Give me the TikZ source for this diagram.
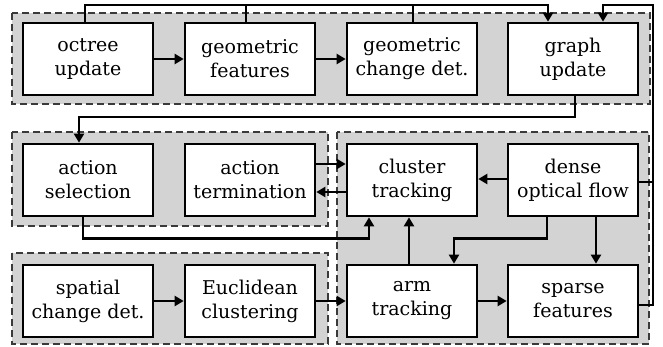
\documentclass[tikz,border=0pt]{standalone}
\usepackage{fontspec}
\setmainfont{DejaVu Serif}
\usetikzlibrary{arrows.meta,calc}
\definecolor{groupfill}{HTML}{D3D3D3}
\definecolor{groupline}{HTML}{3A3A3A}
\tikzset{
  stagebox/.style={draw=black, line width=2.7pt, fill=white, minimum width=130pt,
    minimum height=72pt, inner sep=0pt, align=center,
    font=\fontsize{19}{24}\selectfont},
  groupbox/.style={draw=groupline, fill=groupfill, line width=1.8pt,
    dash pattern=on 7pt off 4pt},
  link/.style={draw=black, line width=2.2pt},
  flow/.style={link, -{Triangle[length=9pt,width=10pt]}},
}
\begin{document}
\begin{tikzpicture}[x=1pt,y=-1pt]
\useasboundingbox (0,0) rectangle (663,347);

% background groups
\path[groupbox] (12,13) rectangle (650,104);
\path[groupbox] (12,132) rectangle (328,226);
\path[groupbox] (337,132) rectangle (649,344);
\path[groupbox] (12,253) rectangle (328,344);

% first row
\node[stagebox] (oct) at (88,59) {octree\\update};
\node[stagebox] (gf)  at (250,59) {geometric\\features};
\node[stagebox] (gcd) at (412,59) {geometric\\change det.};
\node[stagebox] (gu)  at (573,59) {graph\\update};

% second row
\node[stagebox] (as)  at (88,180) {action\\selection};
\node[stagebox] (at)  at (250,180) {action\\termination};
\node[stagebox] (ct)  at (412,180) {cluster\\tracking};
\node[stagebox] (dof) at (573,180) {dense\\optical flow};

% third row
\node[stagebox] (sp)  at (88,301) {spatial\\change det.};
\node[stagebox] (eu)  at (250,301) {Euclidean\\clustering};
\node[stagebox] (arm) at (412,301) {arm\\tracking};
\node[stagebox] (sf)  at (573,301) {sparse\\features};

% routing levels
\coordinate (topy) at (0,5);
\coordinate (midy) at (0,117);
\coordinate (lowy) at (0,238.5);
\coordinate (rbus) at (653,0);
\coordinate (doftap) at ([yshift=-2pt]dof.east);

% top bus into graph update
\draw[flow] ([xshift=-3pt]oct.north) |- ([xshift=-25pt]gu.north |- topy) -- ([xshift=-25pt]gu.north);
\draw[link] ([xshift=-4pt]gf.north) -- ([xshift=-4pt]gf.north |- topy);
\draw[link] ([xshift=1pt]gcd.north) -- ([xshift=1pt]gcd.north |- topy);

% right bus into graph update
\draw[flow] ([yshift=-4pt]sf.east) -| (rbus |- topy) -| ([xshift=30pt]gu.north);
\draw[link] (doftap) -- (rbus |- doftap);

% first row chain
\draw[flow] (oct.east) -- (gf.west);
\draw[flow] (gf.east) -- (gcd.west);

% graph update to action selection
\draw[flow] ([xshift=2pt]gu.south) |- ([xshift=-9pt]as.north |- midy) -- ([xshift=-9pt]as.north);

% action termination <-> cluster tracking
\draw[flow] ([yshift=16pt]at.east) -- ([yshift=16pt]ct.west);
\draw[flow] ([yshift=-12pt]ct.west) -- ([yshift=-12pt]at.east);
\draw[flow] ([yshift=1pt]dof.west) -- ([yshift=1pt]ct.east);

% action selection to cluster tracking
\draw[flow] ([xshift=-5pt]as.south) |- ([xshift=-43pt]ct.south |- lowy) -- ([xshift=-43pt]ct.south);

% arm tracking to cluster tracking
\draw[flow] ([xshift=-3pt]arm.north) -- ([xshift=-3pt]ct.south);

% dense optical flow outputs
\draw[flow] ([xshift=-26pt]dof.south) |- ([xshift=42pt]arm.north |- lowy) -- ([xshift=42pt]arm.north);
\draw[flow] ([xshift=23pt]dof.south) -- ([xshift=23pt]sf.north);

% third row chain
\draw[flow] (sp.east) -- (eu.west);
\draw[flow] (eu.east) -- (arm.west);
\draw[flow] (arm.east) -- (sf.west);
\end{tikzpicture}
\end{document}
